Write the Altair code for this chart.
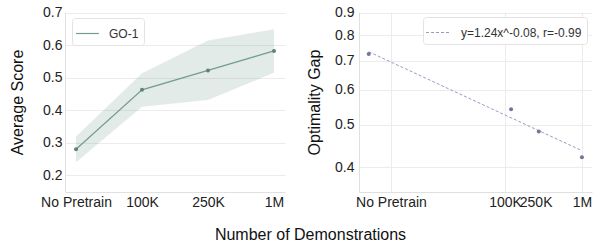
import altair as alt
import pandas as pd

FONT = "Liberation Sans"

# ---- left panel data (Average Score) ----
stages = ["No Pretrain", "100K", "250K", "1M"]
avg_score = [0.28, 0.463, 0.523, 0.583]
score_low = [0.24, 0.411, 0.432, 0.516]
score_high = [0.319, 0.514, 0.615, 0.65]
series_name = "GO-1"

# ---- right panel data (Optimality Gap, log-log) ----
demo_x = [1700, 120000, 275000, 1000000]
gap = [0.724, 0.542, 0.482, 0.421]
fit_x = [1700, 1000000]
fit_y = [0.733, 0.436]
fit_label = "y=1.24x^-0.08, r=-0.99"
gap_ticks = [3300, 100000, 250000, 1000000]
gap_tick_labels = ["No Pretrain", "100K", "250K", "1M"]
hidden_grid_tick = 250000

green = "#729c8b"
green_dark = "#5d8574"
purple = "#76729a"
purple_line = "#9d99bf"

df1 = pd.DataFrame({"stage": stages, "score": avg_score, "low": score_low,
                    "high": score_high, "series": [series_name] * len(stages)})
df2 = pd.DataFrame({"x": demo_x, "gap": gap})
df3 = pd.DataFrame({"x": fit_x, "y": fit_y, "series": [fit_label] * len(fit_x)})

x1 = alt.X("stage:N", sort=stages,
           scale=alt.Scale(type="point", padding=0.167),
           axis=alt.Axis(title=None, labelAngle=0, labelPadding=3, tickSize=0, ticks=False))
y1_scale = alt.Scale(domain=[0.148, 0.703], nice=False, zero=False)
y1_axis = alt.Axis(title="Average Score", values=[0.2, 0.3, 0.4, 0.5, 0.6, 0.7], format=".1f",
                   labelPadding=3, tickSize=0, ticks=False, minExtent=26, maxExtent=26,
                   titlePadding=14)

band = alt.Chart(df1).mark_area(color=green, opacity=0.2).encode(
    x=x1, y=alt.Y("low:Q", scale=y1_scale, axis=y1_axis), y2="high:Q")
line1 = alt.Chart(df1).mark_line(strokeWidth=1.2).encode(
    x=x1, y=alt.Y("score:Q", scale=y1_scale, axis=y1_axis),
    color=alt.Color("series:N", scale=alt.Scale(range=[green]),
                    legend=alt.Legend(title=None, orient="none", legendX=7, legendY=6,
                                      symbolType="M-1.2,0L1.2,0", symbolSize=361,
                                      symbolStrokeWidth=1.2, labelOffset=11)))
pts1 = alt.Chart(df1).mark_point(filled=True, size=16, color=green_dark, opacity=1).encode(
    x=x1, y=alt.Y("score:Q", scale=y1_scale, axis=y1_axis))
left = alt.layer(band, line1, pts1).properties(width=220, height=180)

# right panel
label_expr = "'" + gap_tick_labels[-1] + "'"
for v, lab in reversed(list(zip(gap_ticks[:-1], gap_tick_labels[:-1]))):
    label_expr = f"datum.value == {v} ? '{lab}' : " + label_expr

x2_scale = alt.Scale(type="log", domain=[1270, 1350000], nice=False)
x2_axis = alt.Axis(title=None, values=gap_ticks, labelExpr=label_expr, labelOverlap=False,
                   labelFlush=False, labelPadding=3, tickSize=0, ticks=False,
                   gridOpacity=alt.condition(f"datum.value == {hidden_grid_tick}",
                                             alt.value(0), alt.value(1)))
y2_scale = alt.Scale(type="log", domain=[0.351, 0.903], nice=False)
y2_axis = alt.Axis(title="Optimality Gap", values=[0.4, 0.5, 0.6, 0.7, 0.8, 0.9], format=".1f",
                   labelPadding=5, tickSize=0, ticks=False, minExtent=28, maxExtent=28,
                   titlePadding=9)

fit = alt.Chart(df3).mark_line(strokeWidth=1, strokeDash=[3, 2]).encode(
    x=alt.X("x:Q", scale=x2_scale, axis=x2_axis),
    y=alt.Y("y:Q", scale=y2_scale, axis=y2_axis),
    color=alt.Color("series:N", scale=alt.Scale(range=[purple_line]),
                    legend=alt.Legend(title=None, orient="none", legendX=64, legendY=5,
                                      symbolType="M-1.25,0L1.25,0", symbolSize=400,
                                      symbolStrokeWidth=1, symbolDash=[3, 2], labelOffset=12)))
pts2 = alt.Chart(df2).mark_point(filled=True, size=16, color=purple, opacity=1).encode(
    x=alt.X("x:Q", scale=x2_scale, axis=x2_axis),
    y=alt.Y("gap:Q", scale=y2_scale, axis=y2_axis))
right = alt.layer(fit, pts2).properties(width=233, height=180)

chart = alt.hconcat(left, right, spacing=21).resolve_scale(
    color="independent").resolve_legend(color="independent").properties(
    title=alt.TitleParams("Number of Demonstrations", orient="bottom", anchor="middle",
                          fontSize=16, fontWeight="normal", font=FONT, color="#111111",
                          offset=18, dx=10),
    padding={"left": 9, "top": 5, "right": 5, "bottom": 5},
    background="white",
).configure_view(stroke=None).configure_axis(
    labelFont=FONT, titleFont=FONT, labelFontSize=14, titleFontSize=16,
    titleFontWeight="normal", labelColor="#222222", titleColor="#111111",
    gridColor="#ececec", gridWidth=1, domainColor="#e0e0e0", domainWidth=1,
).configure_legend(
    labelFont=FONT, labelFontSize=12, labelColor="#333333", fillColor="white",
    strokeColor="#e3e3e3", cornerRadius=3, padding=5,
)

chart.save("out.html", embed_options={"renderer": "svg", "actions": False})
